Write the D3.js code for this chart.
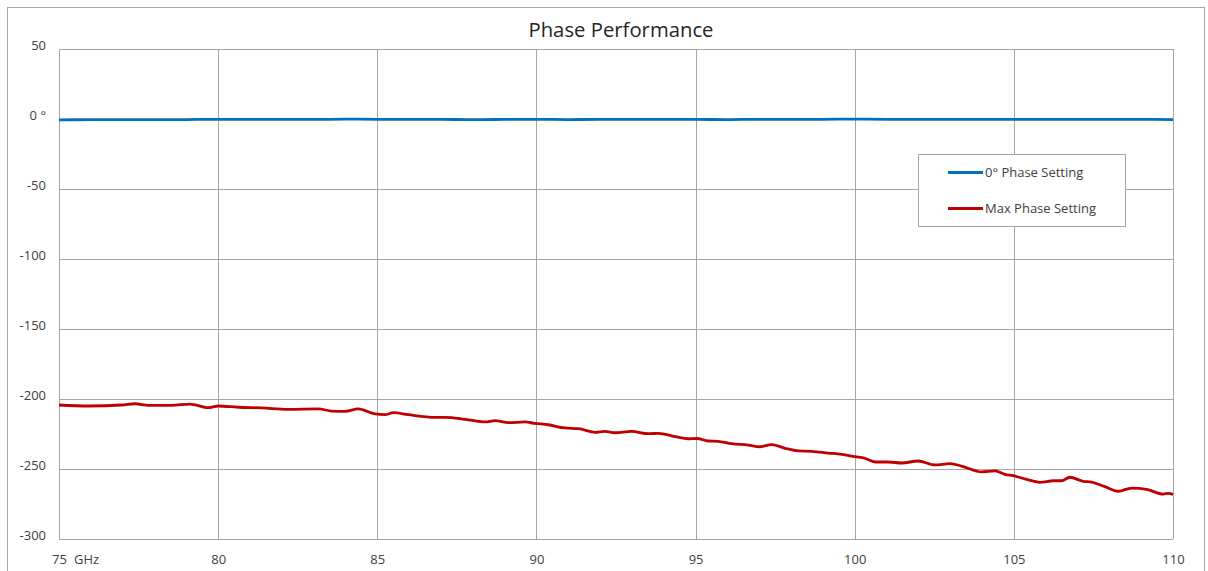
<!DOCTYPE html>
<html>
<head>
<meta charset="utf-8">
<script src="https://cdn.jsdelivr.net/npm/d3@7/dist/d3.min.js"></script>
<style>
  html, body { margin: 0; padding: 0; background: #ffffff; }
  svg { display: block; font-family: "Open Sans", "Liberation Sans", sans-serif; }
</style>
</head>
<body>
<svg id="chart" width="1208" height="571"></svg>
<script>
// ---------- data ----------
const title = "Phase Performance";
const xUnit = "GHz";
const xTicks = [75, 80, 85, 90, 95, 100, 105, 110];
const yTicks = [50, 0, -50, -100, -150, -200, -250, -300];
const yTickLabels = ["50", "0 °", "-50", "-100", "-150", "-200", "-250", "-300"];
const seriesNames = ["0° Phase Setting", "Max Phase Setting"];

const freq0 = [75, 76, 77, 78, 79, 80, 81, 82, 83, 84, 85, 86, 87, 88, 89, 90, 91, 92,
  93, 94, 95, 96, 97, 98, 99, 100, 101, 102, 103, 104, 105, 106, 107, 108, 109, 110];
const phase0 = [-0.6, -0.5, -0.4, -0.5, -0.4, -0.2, -0.3, -0.2, -0.3, -0.1, -0.2, -0.3, -0.2, -0.5, -0.3, -0.2, -0.4, -0.3,
  -0.2, -0.3, -0.3, -0.4, -0.2, -0.3, -0.2, -0.1, -0.2, -0.2, -0.3, -0.2, -0.3, -0.3, -0.2, -0.3, -0.3, -0.4];

const freqMax = [75.0, 75.92, 76.97, 77.39, 77.81, 78.54, 79.12, 79.69, 80.0, 80.63, 81.37, 82.2,
  83.15, 83.57, 83.99, 84.4, 84.93, 85.24, 85.5, 85.97, 86.81, 87.13, 87.76, 88.39, 88.7, 89.12,
  89.64, 89.95, 90.37, 90.89, 91.32, 91.84, 92.15, 92.47, 92.99, 93.51, 93.83, 94.36, 94.77,
  95.04, 95.4, 95.71, 96.13, 96.66, 97.02, 97.39, 97.81, 98.23, 98.65, 99.17, 99.59, 100.01,
  100.32, 100.64, 101.05, 101.48, 102.0, 102.52, 102.99, 103.36, 103.99, 104.41, 104.72, 104.98,
  105.4, 105.82, 106.24, 106.5, 106.76, 107.18, 107.44, 107.86, 108.28, 108.7, 109.17, 109.69,
  109.85, 110.0];
const phaseMax = [-204.3, -205.0, -204.3, -203.4, -204.5, -204.5, -203.6, -206.2, -205.0, -205.9, -206.4, -207.4,
  -207.1, -208.6, -208.8, -207.1, -210.7, -211.2, -209.8, -211.2, -213.1, -213.1, -214.5, -216.4, -215.5, -216.9,
  -216.4, -217.4, -218.4, -220.7, -221.2, -223.8, -223.1, -224.1, -223.1, -224.8, -224.5, -226.9, -228.4,
  -228.2, -230.0, -230.2, -231.9, -232.9, -234.1, -232.6, -235.2, -237.1, -237.4, -238.6, -239.5, -241.2,
  -242.4, -245.0, -245.0, -245.7, -244.3, -247.1, -246.2, -247.9, -252.1, -251.4, -253.8, -254.8,
  -257.4, -259.5, -258.4, -258.4, -255.9, -258.8, -259.3, -262.6, -265.9, -263.6, -264.5, -267.9,
  -267.4, -268.1];

// ---------- layout ----------
const svg = d3.select("#chart");
const plot = { left: 59, right: 1173, top: 49, bottom: 539 };
const gridColor = "#a6a6a6";
const textColor = "#404040";

const x = d3.scaleLinear().domain([75, 110]).range([plot.left, plot.right]);
const y = d3.scaleLinear().domain([-300, 50]).range([plot.bottom, plot.top]);

// outer chart border
svg.append("rect")
  .attr("x", 7.5).attr("y", 7.5).attr("width", 1197).attr("height", 580)
  .attr("fill", "#ffffff").attr("stroke", "#a6a6a6").attr("stroke-width", 1);

// title
svg.append("text")
  .attr("x", 621).attr("y", 37)
  .attr("text-anchor", "middle")
  .attr("font-size", 20.3)
  .attr("fill", "#262626")
  .text(title);

// gridlines
const grid = svg.append("g");
grid.selectAll("line.h").data(yTicks).join("line")
  .attr("x1", plot.left).attr("x2", plot.right)
  .attr("y1", d => Math.round(y(d)) + 0.5).attr("y2", d => Math.round(y(d)) + 0.5)
  .attr("stroke", gridColor).attr("stroke-width", 1);
grid.selectAll("line.v").data(xTicks).join("line")
  .attr("y1", plot.top).attr("y2", plot.bottom)
  .attr("x1", d => Math.round(x(d)) + 0.5).attr("x2", d => Math.round(x(d)) + 0.5)
  .attr("stroke", gridColor).attr("stroke-width", 1);

// axes (labels only, via d3 axes)
const yAxis = d3.axisLeft(y).tickValues(yTicks)
  .tickFormat((d, i) => yTickLabels[i]).tickSize(0).tickPadding(0);
const gy = svg.append("g").attr("transform", `translate(46,0)`).call(yAxis);
gy.select(".domain").remove();
gy.selectAll("text").attr("font-size", 13).attr("fill", textColor)
  .attr("font-family", "'Open Sans', sans-serif").attr("dy", "0.05em");

const xAxis = d3.axisBottom(x).tickValues(xTicks).tickFormat(d3.format("d")).tickSize(0).tickPadding(0);
const gx = svg.append("g").attr("transform", `translate(0,0)`).call(xAxis);
gx.select(".domain").remove();
gx.selectAll("text").attr("font-size", 13).attr("fill", textColor)
  .attr("font-family", "'Open Sans', sans-serif")
  .attr("y", 564).attr("dy", null);

svg.append("text")
  .attr("x", 74).attr("y", 564)
  .attr("font-size", 13).attr("fill", textColor)
  .text(xUnit);

// series lines
const line = d3.line().x(d => x(d[0])).y(d => y(d[1])).curve(d3.curveMonotoneX);
const data0 = freq0.map((f, i) => [f, phase0[i]]);
const dataMax = freqMax.map((f, i) => [f, phaseMax[i]]);

svg.append("path").datum(data0)
  .attr("d", line).attr("fill", "none")
  .attr("stroke", "#0070c0").attr("stroke-width", 2.8);
svg.append("path").datum(dataMax)
  .attr("d", line).attr("fill", "none")
  .attr("stroke", "#c00000").attr("stroke-width", 2.8).attr("stroke-linejoin", "round");

// legend
const lg = svg.append("g");
lg.append("rect")
  .attr("x", 918.5).attr("y", 154.5).attr("width", 207).attr("height", 72)
  .attr("fill", "#ffffff").attr("stroke", "#a6a6a6").attr("stroke-width", 1);
const colors = ["#0070c0", "#c00000"];
seriesNames.forEach((name, i) => {
  const yy = 172.5 + i * 36;
  lg.append("line").attr("x1", 948).attr("x2", 983).attr("y1", yy).attr("y2", yy)
    .attr("stroke", colors[i]).attr("stroke-width", 2.8);
  lg.append("text").attr("x", 985).attr("y", yy + 4.5)
    .attr("font-size", 13).attr("fill", textColor).text(name);
});
</script>
</body>
</html>
